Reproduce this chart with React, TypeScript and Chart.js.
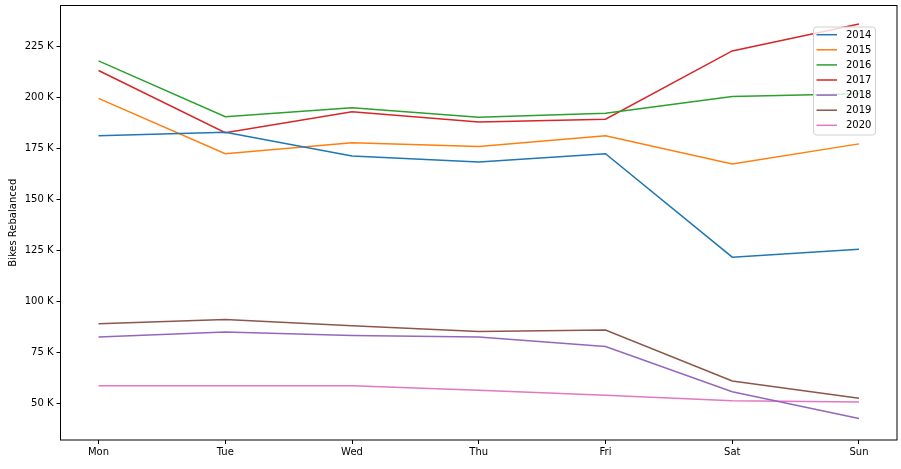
import React, { useEffect, useRef } from "react";
import { Chart, registerables } from "chart.js";

Chart.register(...registerables);

const days = ["Mon", "Tue", "Wed", "Thu", "Fri", "Sat", "Sun"];
const years = ["2014", "2015", "2016", "2017", "2018", "2019", "2020"];
const colors = ["#1f77b4", "#ff7f0e", "#2ca02c", "#d62728", "#9467bd", "#8c564b", "#e377c2"];

// bikes rebalanced per weekday, one array per year
const y2014 = [181300, 183000, 171300, 168400, 172500, 121700, 125600];
const y2015 = [199600, 172500, 177900, 176000, 181300, 167400, 177300];
const y2016 = [218000, 190600, 195000, 190400, 192300, 200500, 201900];
const y2017 = [213300, 182800, 193100, 188000, 189400, 222900, 236100];
const y2018 = [82600, 85000, 83300, 82600, 77900, 55700, 42500];
const y2019 = [89000, 91100, 88000, 85200, 86000, 61000, 52500];
const y2020 = [58600, 58600, 58600, 56400, 53900, 51300, 50600];

const series = [y2014, y2015, y2016, y2017, y2018, y2019, y2020];
const yTicks = [50000, 75000, 100000, 125000, 150000, 175000, 200000, 225000];

const FONT = "'DejaVu Sans', sans-serif";

// full matplotlib-style frame plus a boxed legend in the top right
const framePlugin = {
  id: "frame",
  afterDraw(chart: Chart) {
    const { ctx, chartArea } = chart;
    ctx.save();
    ctx.strokeStyle = "#000";
    ctx.lineWidth = 1;
    ctx.strokeRect(chartArea.left, chartArea.top, chartArea.right - chartArea.left, chartArea.bottom - chartArea.top);

    const bx = 813.5, by = 27, bw = 62, bh = 108, r = 3;
    ctx.beginPath();
    ctx.moveTo(bx + r, by);
    ctx.arcTo(bx + bw, by, bx + bw, by + bh, r);
    ctx.arcTo(bx + bw, by + bh, bx, by + bh, r);
    ctx.arcTo(bx, by + bh, bx, by, r);
    ctx.arcTo(bx, by, bx + bw, by, r);
    ctx.closePath();
    ctx.fillStyle = "rgba(255,255,255,0.8)";
    ctx.fill();
    ctx.strokeStyle = "#d0d0d0";
    ctx.stroke();

    ctx.font = `10px ${FONT}`;
    ctx.textBaseline = "middle";
    chart.data.datasets.forEach((ds, i) => {
      const yy = 34.7 + i * 15.1;
      ctx.strokeStyle = ds.borderColor as string;
      ctx.lineWidth = 1.5;
      ctx.beginPath();
      ctx.moveTo(816.5, yy);
      ctx.lineTo(837, yy);
      ctx.stroke();
      ctx.fillStyle = "#000";
      ctx.fillText(ds.label as string, 846, yy + 0.5);
    });
    ctx.restore();
  },
};

const App: React.FC = () => {
  const canvasRef = useRef<HTMLCanvasElement>(null);
  const chartRef = useRef<Chart | null>(null);

  useEffect(() => {
    if (!canvasRef.current) return;
    if (chartRef.current) chartRef.current.destroy();

    chartRef.current = new Chart(canvasRef.current, {
      type: "line",
      data: {
        datasets: series.map((vals, i) => ({
          label: years[i],
          data: vals.map((v, j) => ({ x: j, y: v })),
          borderColor: colors[i],
          backgroundColor: colors[i],
          borderWidth: 1.5,
          pointRadius: 0,
          tension: 0,
          fill: false,
        })),
      },
      options: {
        animation: false,
        responsive: true,
        maintainAspectRatio: false,
        layout: { padding: { top: 5.5, right: 4, bottom: 0, left: 0 } },
        plugins: {
          legend: { display: false },
          tooltip: { enabled: false },
        },
        scales: {
          x: {
            type: "linear",
            min: -0.3,
            max: 6.3,
            afterBuildTicks: (scale: any) => {
              scale.ticks = days.map((_, i) => ({ value: i }));
            },
            afterFit: (scale: any) => {
              scale.height = 29;
              scale.paddingLeft = 0;
              scale.paddingRight = 0;
            },
            grid: { drawOnChartArea: false, drawTicks: true, tickLength: 4, color: "#000" },
            border: { display: false },
            ticks: {
              color: "#000",
              padding: 2,
              maxRotation: 0,
              font: { family: FONT, size: 10 },
              callback: (v: any) => days[Math.round(Number(v))] ?? "",
            },
          },
          y: {
            min: 32000,
            max: 245200,
            afterBuildTicks: (scale: any) => {
              scale.ticks = yTicks.map((v) => ({ value: v }));
            },
            afterFit: (scale: any) => {
              scale.width = 60.5;
              scale.paddingTop = 0;
              scale.paddingBottom = 0;
            },
            grid: { drawOnChartArea: false, drawTicks: true, tickLength: 4, color: "#000" },
            border: { display: false },
            title: {
              display: true,
              text: "Bikes Rebalanced",
              color: "#000",
              font: { family: FONT, size: 10 },
              padding: { top: 7, bottom: 0 },
            },
            ticks: {
              color: "#000",
              padding: 3,
              font: { family: FONT, size: 10 },
              callback: (v: any) => `${Math.round(Number(v) / 1000)} K`,
            },
          },
        },
      },
      plugins: [framePlugin],
    });

    return () => {
      if (chartRef.current) {
        chartRef.current.destroy();
        chartRef.current = null;
      }
    };
  }, []);

  return (
    <div style={{ position: "fixed", left: 0, top: 0, width: 901, height: 469, background: "#fff" }}>
      <canvas ref={canvasRef}></canvas>
    </div>
  );
};

export default App;
